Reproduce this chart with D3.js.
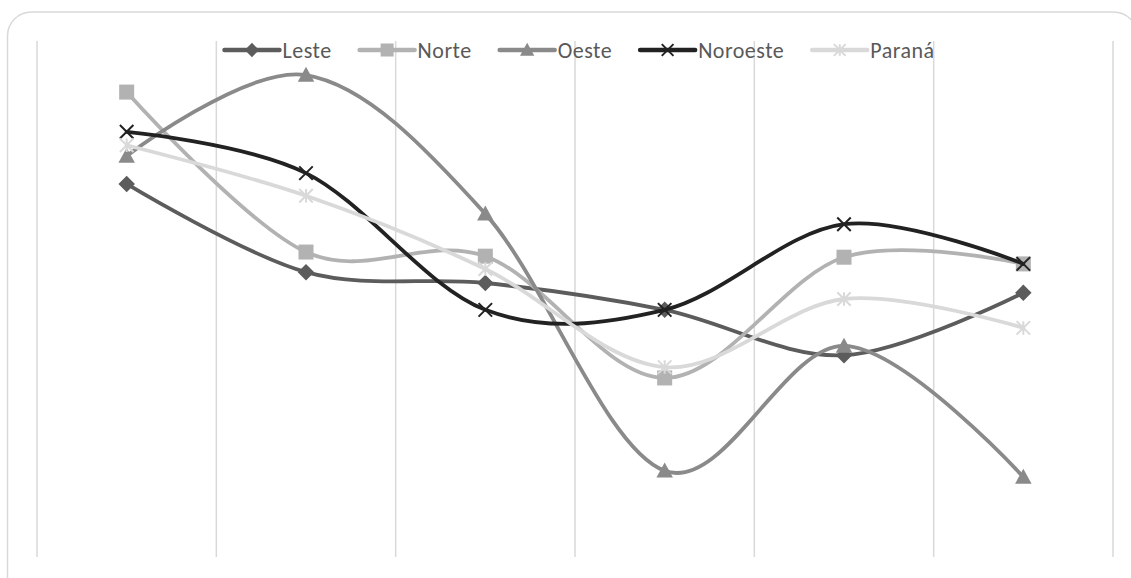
<!DOCTYPE html>
<html>
<head>
<meta charset="utf-8">
<script src="https://cdn.jsdelivr.net/npm/d3@7"></script>
<style>
  html, body { margin: 0; padding: 0; background: #fff; }
  svg { display: block; }
</style>
</head>
<body>
<svg id="chart" width="1131" height="578"></svg>
<script>
// Six periods on the category axis (labels hidden in this chart)
const categories = ["1", "2", "3", "4", "5", "6"];

// Series values per region
const leste    = [72.3, 55.2, 53.1, 47.9, 39.1, 51.2];
const norte    = [90.1, 59.1, 58.3, 34.7, 58.1, 56.8];
const oeste    = [77.7, 93.4, 66.5, 16.7, 40.9, 15.5];
const noroeste = [82.4, 74.4, 47.9, 47.9, 64.5, 56.8];
const parana   = [79.8, 70.0, 55.8, 36.8, 50.0, 44.4];

const seriesNames = ["Leste", "Norte", "Oeste", "Noroeste", "Paraná"];
const seriesValues = [leste, norte, oeste, noroeste, parana];
const seriesColors = ["#5c5c5c", "#b2b2b2", "#8a8a8a", "#222222", "#d9d9d9"];
const seriesMarkers = ["diamond", "square", "triangle", "x", "star"];

const svg = d3.select("#chart");

// Outer chart frame with rounded corners
svg.append("rect")
  .attr("x", 7.5).attr("y", 12)
  .attr("width", 1130).attr("height", 590)
  .attr("rx", 24).attr("ry", 24)
  .attr("fill", "#fff")
  .attr("stroke", "#d9d9d9")
  .attr("stroke-width", 1.5);

const plot = { left: 37, right: 1113, top: 41, bottom: 557 };

const x = d3.scaleBand()
  .domain(categories)
  .range([plot.left, plot.right])
  .paddingInner(0).paddingOuter(0);

const y = d3.scaleLinear()
  .domain([0, 100])
  .range([plot.bottom, plot.top]);

// Vertical gridlines at the category boundaries
const boundaries = categories.map(c => x(c)).concat([x(categories[categories.length - 1]) + x.bandwidth()]);
svg.append("g")
  .selectAll("line")
  .data(boundaries)
  .join("line")
  .attr("x1", d => d).attr("x2", d => d)
  .attr("y1", plot.top).attr("y2", plot.bottom)
  .attr("stroke", "#d9d9d9")
  .attr("stroke-width", 1.5);

// Marker shapes
function drawMarker(g, type, color, size) {
  const s = size;
  if (type === "diamond") {
    g.append("path")
      .attr("d", `M0,${-s*0.55}L${s*0.55},0L0,${s*0.55}L${-s*0.55},0Z`)
      .attr("fill", color);
  } else if (type === "square") {
    g.append("rect")
      .attr("x", -s/2).attr("y", -s/2).attr("width", s).attr("height", s)
      .attr("fill", color);
  } else if (type === "triangle") {
    g.append("path")
      .attr("d", `M0,${-s*0.55}L${s*0.55},${s*0.45}L${-s*0.55},${s*0.45}Z`)
      .attr("fill", color);
  } else if (type === "x") {
    const r = s * 0.45;
    g.append("path")
      .attr("d", `M${-r},${-r}L${r},${r}M${r},${-r}L${-r},${r}`)
      .attr("stroke", color).attr("stroke-width", 2).attr("fill", "none");
  } else if (type === "star") {
    const r = s * 0.45;
    g.append("path")
      .attr("d", `M${-r},${-r}L${r},${r}M${r},${-r}L${-r},${r}M0,${-r}L0,${r}`)
      .attr("stroke", color).attr("stroke-width", 2).attr("fill", "none");
  }
}

const line = d3.line()
  .x((d, i) => x(categories[i]) + x.bandwidth() / 2)
  .y(d => y(d))
  .curve(d3.curveCardinal.tension(0));

// Series lines and markers
seriesValues.forEach((vals, si) => {
  const g = svg.append("g");
  g.append("path")
    .datum(vals)
    .attr("d", line)
    .attr("fill", "none")
    .attr("stroke", seriesColors[si])
    .attr("stroke-width", 3.8)
    .attr("stroke-linejoin", "round")
    .attr("stroke-linecap", "round");
  vals.forEach((v, i) => {
    const m = g.append("g")
      .attr("transform", `translate(${x(categories[i]) + x.bandwidth() / 2},${y(v)})`);
    drawMarker(m, seriesMarkers[si], seriesColors[si], 15);
  });
});

// Legend across the top
const legend = svg.append("g").attr("class", "legend");
const legendY = 50;
let cursor = 0;
const itemGap = 28, lineLen = 55, textGap = 3;
seriesNames.forEach((name, si) => {
  const item = legend.append("g").attr("transform", `translate(${cursor},0)`);
  item.append("line")
    .attr("x1", 0).attr("x2", lineLen)
    .attr("y1", legendY).attr("y2", legendY)
    .attr("stroke", seriesColors[si])
    .attr("stroke-width", 4.5)
    .attr("stroke-linecap", "round");
  const m = item.append("g").attr("transform", `translate(${lineLen/2},${legendY})`);
  drawMarker(m, seriesMarkers[si], seriesColors[si], 13);
  const t = item.append("text")
    .attr("x", lineLen + textGap)
    .attr("y", legendY)
    .attr("dy", "0.35em")
    .attr("font-family", "Carlito, Calibri, Lato, sans-serif")
    .attr("font-size", 22)
    .attr("letter-spacing", "0.5px")
    .attr("fill", "#595959")
    .text(name);
  cursor += lineLen + textGap + t.node().getComputedTextLength() + itemGap;
});
const legendWidth = cursor - itemGap;
legend.attr("transform", `translate(${(217 + 942) / 2 - legendWidth / 2},0)`);
</script>
</body>
</html>
